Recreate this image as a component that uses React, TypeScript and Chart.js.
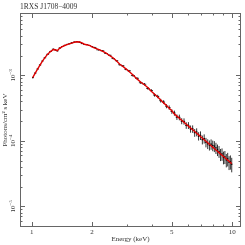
import React, { useEffect, useRef } from "react";
import { Chart, registerables } from "chart.js";
Chart.register(...registerables);

const TITLE = "1RXS J1708\u22124009";
const X_TITLE = "Energy (keV)";
const Y_TITLE = "Photons/cm\u00B2 s keV";

const energy = [
  1.01, 1.04, 1.07, 1.10, 1.13, 1.16, 1.20, 1.24, 1.28, 1.31, 1.34, 1.38, 1.42, 1.46, 1.50, 1.54, 1.58, 1.63, 1.68, 1.73, 1.78, 1.83, 1.88, 1.94, 2.00,
  2.05, 2.15, 2.25, 2.35, 2.45, 2.55, 2.65, 2.75, 2.85, 2.95, 3.05, 3.2, 3.35, 3.5, 3.65, 3.8, 3.95, 4.1, 4.25, 4.4, 4.55, 4.7, 4.85, 5.0,
  5.15, 5.3, 5.45, 5.6, 5.75, 5.9, 6.05, 6.2, 6.35, 6.5, 6.65, 6.8, 6.95, 7.1, 7.25, 7.4, 7.55, 7.7, 7.85, 8.0, 8.15, 8.3, 8.45, 8.6, 8.75, 8.9, 9.05, 9.2, 9.35, 9.5, 9.65, 9.8, 9.95,
];

const flux = [
  9.2e-4, 1.08e-3, 1.25e-3, 1.44e-3, 1.65e-3, 1.85e-3, 2.09e-3, 2.31e-3, 2.50e-3, 2.44e-3, 2.36e-3, 2.61e-3, 2.75e-3, 2.86e-3, 2.96e-3, 3.04e-3, 3.12e-3, 3.21e-3, 3.26e-3, 3.20e-3, 3.05e-3, 2.95e-3, 2.94e-3, 2.85e-3, 2.74e-3,
  2.66e-3, 2.45e-3, 2.37e-3, 2.15e-3, 2.02e-3, 1.80e-3, 1.67e-3, 1.45e-3, 1.39e-3, 1.23e-3, 1.17e-3, 9.9e-4, 9.0e-4, 7.7e-4, 7.3e-4, 6.3e-4, 5.85e-4, 5.0e-4, 4.75e-4, 4.1e-4, 3.9e-4, 3.38e-4, 3.22e-4, 2.80e-4,
  2.65e-4, 2.30e-4, 2.28e-4, 2.00e-4, 1.98e-4, 1.72e-4, 1.72e-4, 1.52e-4, 1.52e-4, 1.33e-4, 1.36e-4, 1.18e-4, 1.21e-4, 1.04e-4, 1.08e-4, 9.5e-5, 9.0e-5, 8.6e-5, 8.9e-5, 8.5e-5, 8.3e-5, 7.8e-5, 7.3e-5, 6.9e-5, 6.2e-5, 6.3e-5, 5.6e-5, 5.7e-5, 5.1e-5, 5.3e-5, 4.7e-5, 4.8e-5, 4.4e-5,
];

const relErr = [
  0.012, 0.012, 0.011, 0.011, 0.011, 0.010, 0.010, 0.010, 0.010, 0.010, 0.010, 0.010, 0.010, 0.010, 0.010, 0.010, 0.010, 0.010, 0.010, 0.010, 0.011, 0.011, 0.011, 0.012, 0.012,
  0.015, 0.016, 0.017, 0.018, 0.02, 0.022, 0.024, 0.026, 0.028, 0.03, 0.032, 0.035, 0.038, 0.042, 0.045, 0.05, 0.053, 0.057, 0.06, 0.065, 0.068, 0.072, 0.076, 0.08,
  0.09, 0.095, 0.1, 0.105, 0.11, 0.115, 0.12, 0.125, 0.13, 0.135, 0.14, 0.145, 0.15, 0.155, 0.16, 0.165, 0.17, 0.175, 0.18, 0.185, 0.19, 0.195, 0.2, 0.205, 0.21, 0.215, 0.22, 0.225, 0.23, 0.235, 0.24, 0.245, 0.25,
];

const model = [
  9.2e-4, 1.08e-3, 1.25e-3, 1.44e-3, 1.65e-3, 1.84e-3, 2.10e-3, 2.30e-3, 2.48e-3, 2.45e-3, 2.37e-3, 2.60e-3, 2.74e-3, 2.85e-3, 2.94e-3, 3.02e-3, 3.10e-3, 3.19e-3, 3.25e-3, 3.22e-3, 3.12e-3, 2.98e-3, 2.93e-3, 2.86e-3, 2.72e-3,
  2.63e-3, 2.48e-3, 2.34e-3, 2.175e-3, 1.99e-3, 1.836e-3, 1.647e-3, 1.477e-3, 1.363e-3, 1.252e-3, 1.155e-3, 1.011e-3, 8.81e-4, 7.82e-4, 7.16e-4, 6.46e-4, 5.72e-4, 5.13e-4, 4.65e-4, 4.20e-4, 3.79e-4, 3.46e-4, 3.15e-4, 2.87e-4,
  2.57e-4, 2.38e-4, 2.21e-4, 2.06e-4, 1.92e-4, 1.79e-4, 1.675e-4, 1.57e-4, 1.475e-4, 1.387e-4, 1.304e-4, 1.23e-4, 1.16e-4, 1.096e-4, 1.037e-4, 9.83e-5, 9.31e-5, 8.84e-5, 8.41e-5, 8.0e-5, 7.61e-5, 7.25e-5, 6.91e-5, 6.6e-5, 6.3e-5, 6.03e-5, 5.77e-5, 5.52e-5, 5.29e-5, 5.07e-5, 4.86e-5, 4.67e-5, 4.48e-5,
];

const X_MIN = 0.873;
const X_MAX = 11.07;
const Y_MIN = 4.83e-6;
const Y_MAX = 8.93e-3;
const xMajor = [1, 2, 5, 10];
const xMinor = [3, 4, 6, 7, 8, 9];
const yMajorExp = [-3, -4, -5];
const yMinor = [6e-6, 7e-6, 8e-6, 9e-6, 2e-5, 3e-5, 4e-5, 5e-5, 6e-5, 7e-5, 8e-5, 9e-5, 2e-4, 3e-4, 4e-4, 5e-4, 6e-4, 7e-4, 8e-4, 9e-4, 2e-3, 3e-3, 4e-3, 5e-3, 6e-3, 7e-3, 8e-3];

const FONT = "'Liberation Serif', serif";
const TEXT = "#333";
const FRAME = "#666";

const decor = {
  id: "decor",
  beforeDatasetsDraw(chart: any) {
    const ctx = chart.ctx;
    const xs = chart.scales.x;
    const ys = chart.scales.y;
    ctx.save();
    ctx.strokeStyle = "#000";
    ctx.lineWidth = 0.8;
    for (let i = 0; i < energy.length; i++) {
      const px = xs.getPixelForValue(energy[i]);
      const y1 = ys.getPixelForValue(flux[i] * (1 + relErr[i]));
      const y2 = ys.getPixelForValue(flux[i] * (1 - relErr[i]));
      const py = ys.getPixelForValue(flux[i]);
      const prev = i > 0 ? xs.getPixelForValue(energy[i - 1]) : px - 1.2;
      const next = i < energy.length - 1 ? xs.getPixelForValue(energy[i + 1]) : px + 1.2;
      ctx.beginPath();
      ctx.moveTo(px, y1);
      ctx.lineTo(px, y2);
      ctx.moveTo((px + prev) / 2, py);
      ctx.lineTo((px + next) / 2, py);
      ctx.stroke();
    }
    ctx.restore();
  },
  afterDraw(chart: any) {
    const ctx = chart.ctx;
    const a = chart.chartArea;
    const xs = chart.scales.x;
    const ys = chart.scales.y;
    ctx.save();
    ctx.strokeStyle = FRAME;
    ctx.lineWidth = 1;
    ctx.strokeRect(a.left + 0.5, a.top + 0.5, a.right - a.left - 1, a.bottom - a.top - 1);
    ctx.beginPath();
    const tickX = (v: number, len: number) => {
      const p = Math.round(xs.getPixelForValue(v)) + 0.5;
      ctx.moveTo(p, a.bottom);
      ctx.lineTo(p, a.bottom - len);
      ctx.moveTo(p, a.top);
      ctx.lineTo(p, a.top + len);
    };
    const tickY = (v: number, len: number) => {
      const p = Math.round(ys.getPixelForValue(v)) + 0.5;
      ctx.moveTo(a.left, p);
      ctx.lineTo(a.left + len, p);
      ctx.moveTo(a.right, p);
      ctx.lineTo(a.right - len, p);
    };
    xMajor.forEach((v) => tickX(v, 5));
    xMinor.forEach((v) => tickX(v, 2.5));
    yMajorExp.forEach((e) => tickY(Math.pow(10, e), 5));
    yMinor.forEach((v) => tickY(v, 2.5));
    ctx.stroke();

    ctx.fillStyle = TEXT;
    ctx.font = `7px ${FONT}`;
    ctx.textAlign = "center";
    ctx.textBaseline = "middle";
    xMajor.forEach((v) => {
      ctx.fillText(String(v), xs.getPixelForValue(v), a.bottom + 5.5);
    });
    ctx.fillText(X_TITLE, (a.left + a.right) / 2, a.bottom + 12.5);

    yMajorExp.forEach((e) => {
      const py = ys.getPixelForValue(Math.pow(10, e));
      ctx.save();
      ctx.translate(a.left - 6.5, py);
      ctx.rotate(-Math.PI / 2);
      ctx.font = `7px ${FONT}`;
      const base = "10";
      const sup = "\u2212" + String(-e);
      const wb = ctx.measureText(base).width;
      ctx.font = `5px ${FONT}`;
      const ws = ctx.measureText(sup).width;
      const start = -(wb + ws) / 2;
      ctx.textAlign = "left";
      ctx.font = `7px ${FONT}`;
      ctx.fillText(base, start, 0);
      ctx.font = `5px ${FONT}`;
      ctx.fillText(sup, start + wb, -2.5);
      ctx.restore();
    });

    ctx.save();
    ctx.translate(5, (a.top + a.bottom) / 2);
    ctx.rotate(-Math.PI / 2);
    ctx.font = `7px ${FONT}`;
    ctx.textAlign = "center";
    ctx.fillText(Y_TITLE, 0, 0);
    ctx.restore();

    ctx.font = `7.5px ${FONT}`;
    ctx.textAlign = "left";
    ctx.fillText(TITLE, a.left, 7);
    ctx.restore();
  },
};

export default function App() {
  const ref = useRef<HTMLCanvasElement>(null);
  useEffect(() => {
    if (!ref.current) return;
    const chart = new Chart(ref.current, {
      type: "scatter",
      data: {
        datasets: [
          {
            type: "line",
            data: energy.map((e, i) => ({ x: e, y: model[i] })),
            borderColor: "#e00000",
            borderWidth: 1.4,
            pointRadius: 0,
            fill: false,
            order: 1,
          } as any,
          {
            type: "scatter",
            data: energy.map((e, i) => ({ x: e, y: flux[i] })),
            backgroundColor: "#000",
            borderColor: "#000",
            pointRadius: 0.6,
            borderWidth: 0,
            order: 2,
          },
        ],
      },
      options: {
        animation: false,
        responsive: false,
        maintainAspectRatio: false,
        layout: { padding: { left: 20, right: 1, top: 13, bottom: 18 } },
        plugins: { legend: { display: false }, tooltip: { enabled: false }, title: { display: false } },
        scales: {
          x: { type: "logarithmic", min: X_MIN, max: X_MAX, display: false },
          y: { type: "logarithmic", min: Y_MIN, max: Y_MAX, display: false },
        },
      },
      plugins: [decor],
    });
    return () => chart.destroy();
  }, []);
  return (
    <div style={{ position: "fixed", left: 0, top: 0, width: 245, height: 245, background: "#fff" }}>
      <canvas ref={ref} width={245} height={245} style={{ display: "block" }} />
    </div>
  );
}
